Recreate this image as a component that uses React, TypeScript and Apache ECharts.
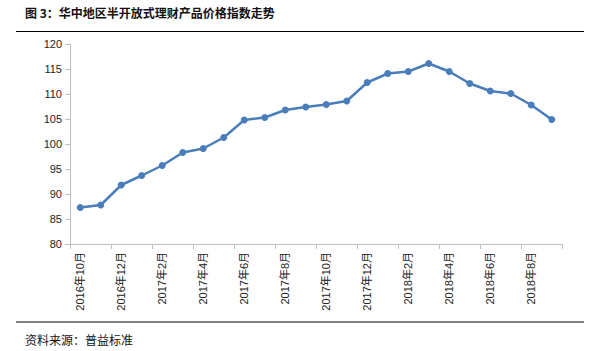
import React, { useEffect, useRef } from "react";
import * as echarts from "echarts";

const categories = [
  "2016年10月", "2016年11月", "2016年12月",
  "2017年1月", "2017年2月", "2017年3月", "2017年4月", "2017年5月", "2017年6月",
  "2017年7月", "2017年8月", "2017年9月", "2017年10月", "2017年11月", "2017年12月",
  "2018年1月", "2018年2月", "2018年3月", "2018年4月", "2018年5月", "2018年6月",
  "2018年7月", "2018年8月", "2018年9月",
];
const values = [
  87.3, 87.8, 91.8, 93.7, 95.7, 98.3, 99.1, 101.3, 104.8, 105.3, 106.8, 107.4,
  107.9, 108.6, 112.3, 114.1, 114.5, 116.1, 114.5, 112.1, 110.6, 110.1, 107.8, 104.9,
];
const titleText = "图 3：华中地区半开放式理财产品价格指数走势";
const sourceText = "资料来源：普益标准";

export default function App() {
  const ref = useRef<HTMLDivElement>(null);
  useEffect(() => {
    if (!ref.current) return;
    const chart = echarts.init(ref.current, null, { renderer: "svg" });
    chart.setOption({
      animation: false,
      backgroundColor: "#ffffff",
      grid: { left: 70, right: 38, top: 44, bottom: 107 },
      xAxis: {
        type: "category",
        data: categories,
        boundaryGap: true,
        axisLine: { lineStyle: { color: "#bfbfbf", width: 1 } },
        axisTick: { show: true, interval: 1, length: 5, lineStyle: { color: "#bfbfbf" } },
        axisLabel: {
          interval: 1,
          rotate: 90,
          fontSize: 11,
          color: "#222",
          margin: 8,
          fontFamily: "Liberation Sans, Noto Sans CJK SC, sans-serif",
        },
      },
      yAxis: {
        type: "value",
        min: 80,
        max: 120,
        interval: 5,
        axisLine: { show: true, lineStyle: { color: "#bfbfbf", width: 1 } },
        axisTick: { show: true, length: 5, lineStyle: { color: "#bfbfbf" } },
        splitLine: { show: false },
        axisLabel: {
          fontSize: 11,
          color: "#222",
          margin: 8,
          fontFamily: "Liberation Sans, sans-serif",
        },
      },
      series: [
        {
          type: "line",
          data: values,
          symbol: "circle",
          symbolSize: 7,
          lineStyle: { color: "#4a7ebb", width: 2.5 },
          itemStyle: { color: "#4a7ebb" },
        },
      ],
      graphic: [
        {
          type: "text",
          left: 25,
          top: 6,
          style: {
            text: titleText,
            fontSize: 12,
            fontWeight: "bold",
            fill: "#111",
            fontFamily: "Noto Sans CJK SC, sans-serif",
          },
        },
        {
          type: "line",
          shape: { x1: 16, y1: 31.5, x2: 584, y2: 31.5 },
          style: { stroke: "#000", lineWidth: 1.2 },
        },
        {
          type: "line",
          shape: { x1: 16, y1: 322, x2: 584, y2: 322 },
          style: { stroke: "#000", lineWidth: 1.2 },
        },
        {
          type: "text",
          left: 25,
          top: 333,
          style: {
            text: sourceText,
            fontSize: 12,
            fill: "#111",
            fontFamily: "Noto Sans CJK SC, sans-serif",
          },
        },
      ],
    });
    return () => chart.dispose();
  }, []);
  return (
    <div
      ref={ref}
      style={{ position: "fixed", left: 0, top: 0, width: 600, height: 351 }}
    />
  );
}
